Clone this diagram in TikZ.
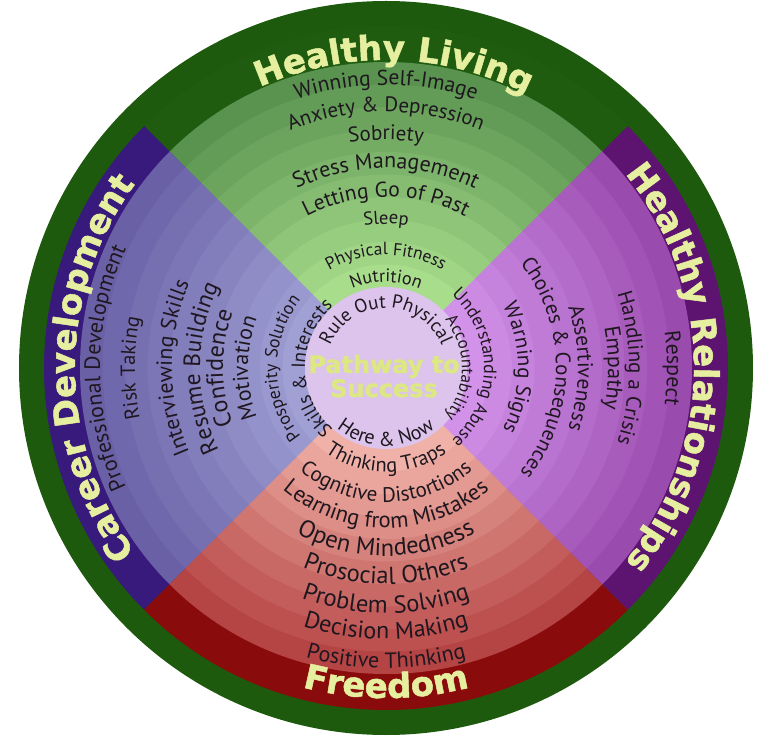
\documentclass[tikz,border=0pt]{standalone}
\usepackage{fontspec}
\setmainfont{PT Sans}
\newfontfamily\titlefont{DejaVu Sans}[BoldFeatures={FakeBold=1.5}]
\usetikzlibrary{decorations.text}
\definecolor{outerG}{HTML}{1D5A0D}
\definecolor{bandG}{HTML}{1F5C0F}
\definecolor{bandB}{HTML}{38197C}
\definecolor{bandP}{HTML}{5C1470}
\definecolor{bandR}{HTML}{8A0B0B}
\definecolor{GLi}{HTML}{A8DD8C}
\definecolor{GLo}{HTML}{5A9350}
\definecolor{BLi}{HTML}{A0A0D4}
\definecolor{BLo}{HTML}{6A60A6}
\definecolor{PLi}{HTML}{D292EA}
\definecolor{PLo}{HTML}{9A4CAE}
\definecolor{RLi}{HTML}{F0B2A8}
\definecolor{RLo}{HTML}{B54444}
\definecolor{centerC}{HTML}{DCC4EC}
\definecolor{txt}{HTML}{1F171F}
\definecolor{ttl}{HTML}{E6EFA0}
\definecolor{ctr}{HTML}{DDE884}
% #1 start angle, #2 end angle, #3 baseline radius, #4 size, #5 text
\newcommand\arctext[5]{\path[decorate,decoration={text along path,text align=center,
  text={|\fontsize{#4}{#4}\selectfont\color{txt}|#5}}] (#1:#3) arc[start angle=#1,end angle=#2,radius=#3];}
\newcommand\arctitle[4]{\path[decorate,decoration={text along path,text align=center,
  text={|\titlefont\bfseries\fontsize{34}{34}\selectfont\color{ttl}|#4}}] (#1:#3) arc[start angle=#1,end angle=#2,radius=#3];}
\newcommand\sectorfill[3]{\fill[#3] (0,0) -- (#1:\rr) arc[start angle=#1,end angle=#2,radius=\rr] -- cycle;}
\begin{document}
\begin{tikzpicture}[x=1pt,y=1pt]
\useasboundingbox (-386,-368) rectangle (383,368);
\fill[outerG] (0,0) circle (367);
\def\rr{342}
\sectorfill{45}{135}{bandG}
\sectorfill{135}{225}{bandB}
\sectorfill{225}{315}{bandR}
\sectorfill{-45}{45}{bandP}
\foreach \k in {10,...,1}{
  \pgfmathsetmacro\rr{81+22.5*\k}
  \pgfmathtruncatemacro\mixp{100*(\k-1)/9}
  \sectorfill{45}{135}{GLo!\mixp!GLi}
  \sectorfill{135}{225}{BLo!\mixp!BLi}
  \sectorfill{225}{315}{RLo!\mixp!RLi}
  \sectorfill{-45}{45}{PLo!\mixp!PLi}
}
\fill[centerC] (0,0) circle (81);
% titles
\arctitle{158.5}{18.5}{308}{Healthy Living}
\arctitle{250}{110}{311}{Career Development}
\arctitle{75}{-75}{308}{Healthy Relationships}
\arctitle{220}{320}{330}{Freedom}
% green
\arctext{160}{20}{283}{21.5}{Winning Self-Image}
\arctext{160}{20}{256}{21}{Anxiety {\&} Depression}
\arctext{160}{20}{228}{21}{Sobriety}
\arctext{160}{20}{200}{22}{Stress Management}
\arctext{160}{20}{171}{21.5}{Letting Go of Past}
\arctext{160}{20}{144}{18.5}{Sleep}
\arctext{160}{20}{113}{17.5}{Physical Fitness}
\arctext{160}{20}{86}{18}{Nutrition}
\arctext{175}{5}{60}{19}{Rule Out Physical}
% red
\arctext{190}{350}{78}{20}{Here {\&} Now}
\arctext{190}{350}{104}{20.5}{Thinking Traps}
\arctext{200}{340}{134}{21}{Cognitive Distortions}
\arctext{200}{340}{160}{22.5}{Learning from Mistakes}
\arctext{200}{340}{188}{24.5}{Open Mindedness}
\arctext{200}{340}{216}{24.5}{Prosocial Others}
\arctext{200}{340}{245}{24.5}{Problem Solving}
\arctext{200}{340}{271}{24}{Decision Making}
\arctext{200}{340}{300}{22}{Positive Thinking}
% blue
\arctext{250}{110}{286}{22}{Professional Development}
\arctext{250}{110}{251}{20.5}{Risk Taking}
\arctext{250}{110}{214}{22}{Interviewing Skills}
\arctext{250}{110}{186}{23.5}{Resume Building}
\arctext{250}{110}{163}{24}{Confidence}
\arctext{250}{110}{138}{22}{Motivation}
\arctext{250}{110}{109}{18}{Prosperity Solution}
\arctext{260}{100}{81}{19}{Skills {\&} Interests}
% purple
\arctext{70}{-70}{281}{22}{Respect}
\arctext{70}{-70}{243}{21}{Handling a Crisis}
\arctext{70}{-70}{222}{22}{Empathy}
\arctext{70}{-70}{192}{21.5}{Assertiveness}
\arctext{70}{-70}{170}{21}{Choices {\&} Consequences}
\arctext{70}{-70}{132}{21}{Warning Signs}
\arctext{70}{-70}{98}{18}{Understanding Abuse}
\arctext{80}{-80}{76}{17}{Accountability}
% center
\node[anchor=base,text=ctr,font=\titlefont\bfseries\fontsize{24}{24}\selectfont,inner sep=0] (pathway) at (-2,-5) {Pathway to};
\node[anchor=base,text=ctr,font=\titlefont\bfseries\fontsize{24}{24}\selectfont,inner sep=0] (success) at (-2,-29) {Success};
\end{tikzpicture}
\end{document}
